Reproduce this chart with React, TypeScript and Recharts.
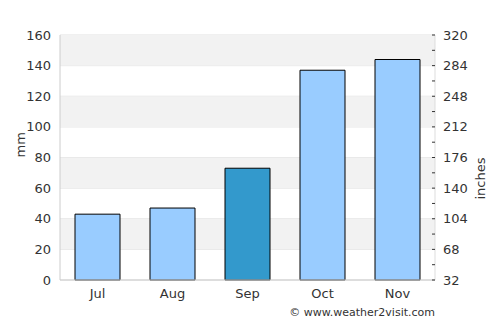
import React from "react";
import {
  BarChart,
  Bar,
  XAxis,
  YAxis,
  CartesianGrid,
  ReferenceArea,
  Cell,
} from "recharts";

const months = ["Jul", "Aug", "Sep", "Oct", "Nov"];
const rainfallMm = [43, 47, 73, 137, 144];
const highlightMonth = "Sep";

const mmTicks = [0, 20, 40, 60, 80, 100, 120, 140, 160];
const inchTicks = [32, 50, 68, 86, 104, 122, 140, 158, 176, 194, 212, 230, 248, 266, 284, 302, 320];
const inchLabels = [32, 68, 104, 140, 176, 212, 248, 284, 320];
const shadedBands = [
  [20, 40],
  [60, 80],
  [100, 120],
  [140, 160],
];

const chartData = months.map((m, i) => ({ month: m, rain: rainfallMm[i] }));

const FONT = "'DejaVu Sans', sans-serif";

// right-hand ticks: short dash just inside the plot edge, label only on every other tick
function InchTick(props: any) {
  const { x, y, payload } = props;
  const v = payload.value;
  const showLabel = inchLabels.includes(v);
  return (
    <g>
      <line x1={x - 3} y1={y} x2={x} y2={y} stroke="#333" strokeWidth={1} />
      {showLabel && (
        <text x={x + 8} y={y} dy="0.35em" fill="#333" fontSize={13} fontFamily={FONT} textAnchor="start">
          {v}
        </text>
      )}
    </g>
  );
}

export default function App() {
  return (
    <div style={{ position: "absolute", left: 0, top: 0, width: 500, height: 325, background: "#fff" }}>
      <BarChart
        width={500}
        height={325}
        data={chartData}
        margin={{ top: 35, right: 0, bottom: 0, left: 0 }}
        barCategoryGap="20%"
      >
        {shadedBands.map(([a, b]) => (
          <ReferenceArea
            key={a}
            yAxisId="mm"
            y1={a}
            y2={b}
            fill="#f2f2f2"
            fillOpacity={1}
            stroke="none"
          />
        ))}
        <CartesianGrid vertical={false} stroke="#e0e0e0" yAxisId="mm" />
        <XAxis
          dataKey="month"
          height={45}
          tickSize={0}
          tickMargin={9}
          axisLine={{ stroke: "#ccc" }}
          tick={{ fill: "#333", fontSize: 13, fontFamily: FONT }}
        />
        <YAxis
          yAxisId="mm"
          orientation="left"
          width={60}
          domain={[0, 160]}
          ticks={mmTicks}
          interval={0}
          tickSize={0}
          tickMargin={9}
          axisLine={{ stroke: "#ccc" }}
          tick={{ fill: "#333", fontSize: 13, fontFamily: FONT }}
          label={{
            value: "mm",
            angle: -90,
            position: "insideLeft",
            offset: 20,
            fill: "#333",
            fontSize: 13,
            fontFamily: FONT,
          }}
        />
        <YAxis
          yAxisId="in"
          orientation="right"
          type="number"
          width={65}
          domain={[32, 320]}
          allowDataOverflow={true}
          ticks={inchTicks}
          interval={0}
          tickLine={false}
          tickSize={0}
          tickMargin={0}
          axisLine={{ stroke: "#ddd" }}
          tick={(p: any) => <InchTick {...p} />}
          label={{
            value: "inches",
            angle: -90,
            position: "insideRight",
            offset: 20,
            fill: "#333",
            fontSize: 13,
            fontFamily: FONT,
          }}
        />
        <Bar dataKey="rain" yAxisId="mm" stroke="#000" strokeWidth={1} isAnimationActive={false}>
          {chartData.map((d) => (
            <Cell key={d.month} fill={d.month === highlightMonth ? "#3399cc" : "#99ccff"} />
          ))}
        </Bar>
      </BarChart>
      <div
        style={{
          position: "absolute",
          right: 65,
          top: 306,
          fontSize: 11,
          fontFamily: FONT,
          color: "#333",
          whiteSpace: "nowrap",
        }}
      >
        © www.weather2visit.com
      </div>
    </div>
  );
}
